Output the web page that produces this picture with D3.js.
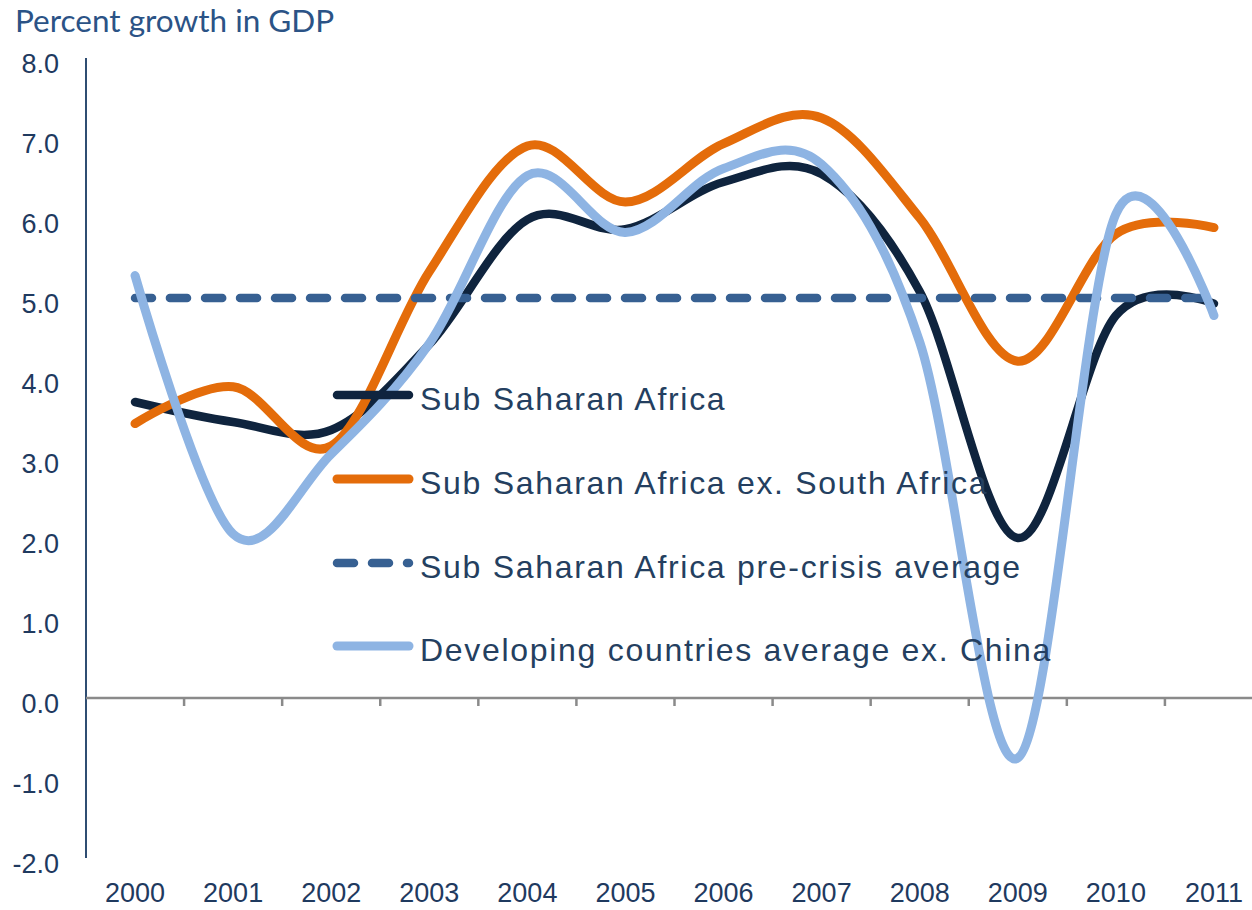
<!DOCTYPE html>
<html>
<head>
<meta charset="utf-8">
<script src="https://cdn.jsdelivr.net/npm/d3@7"></script>
<style>
  html, body { margin: 0; padding: 0; background: #fff; }
  svg { display: block; }
</style>
</head>
<body>
<svg id="chart" width="1252" height="910"></svg>
<script>
// ---- Data ----
const years = ["2000","2001","2002","2003","2004","2005","2006","2007","2008","2009","2010","2011"];
const ssa      = [3.70, 3.45, 3.35, 4.42, 5.98, 5.86, 6.45, 6.55, 5.08, 2.00, 4.78, 4.93];
const ssaExSA  = [3.43, 3.89, 3.15, 5.33, 6.90, 6.20, 6.93, 7.25, 6.00, 4.21, 5.80, 5.88];
const preCrisis = [5.0, 5.0, 5.0, 5.0, 5.0, 5.0, 5.0, 5.0, 5.0, 5.0, 5.0, 5.0];
const devExChina = [5.28, 2.05, 3.05, 4.43, 6.53, 5.82, 6.62, 6.67, 4.45, -0.75, 6.05, 4.78];
const yTicks = [-2, -1, 0, 1, 2, 3, 4, 5, 6, 7, 8];
const seriesNames = [
  "Sub Saharan Africa",
  "Sub Saharan Africa ex. South Africa",
  "Sub Saharan Africa pre-crisis average",
  "Developing countries average ex. China"
];
const titleText = "Percent growth in GDP";

// ---- Setup ----
const svg = d3.select("#chart");
const W = 1252, H = 910;
const x = d3.scaleBand().domain(years).range([86, 1263]).padding(0);
const y = d3.scaleLinear().domain([-2, 8]).range([858, 58]);
const cx = d => x(d) + x.bandwidth() / 2;

const labelColor = "#1f3a5f";
const series = [
  { name: seriesNames[0], values: ssa,        color: "#0f243e", width: 8.5, dash: null },
  { name: seriesNames[1], values: ssaExSA,    color: "#e46c0a", width: 9,   dash: null },
  { name: seriesNames[2], values: preCrisis,  color: "#376092", width: 8.5, dash: "17,18" },
  { name: seriesNames[3], values: devExChina, color: "#8eb4e3", width: 9,   dash: null }
];

// Title
svg.append("text")
  .attr("x", 15).attr("y", 32)
  .attr("font-family", "Lato, 'Open Sans', sans-serif")
  .attr("font-size", 31.5)
  .attr("fill", "#2b5386")
  .text(titleText);

// Y axis labels
svg.append("g").selectAll("text").data(yTicks).join("text")
  .attr("x", 59)
  .attr("y", d => y(d) + 14.5)
  .attr("text-anchor", "end")
  .attr("font-family", "'Liberation Sans', Arial, sans-serif")
  .attr("font-size", 27)
  .attr("fill", labelColor)
  .text(d => d.toFixed(1));

// Y axis line
svg.append("line")
  .attr("x1", 86).attr("x2", 86)
  .attr("y1", y(8)).attr("y2", y(-2))
  .attr("stroke", "#2f4d72").attr("stroke-width", 2);

// Zero line (category axis) with ticks at band boundaries
svg.append("line")
  .attr("x1", 86).attr("x2", W)
  .attr("y1", y(0)).attr("y2", y(0))
  .attr("stroke", "#8a8a8a").attr("stroke-width", 2.5);
svg.append("g").selectAll("line").data(years.slice(1)).join("line")
  .attr("x1", d => x(d)).attr("x2", d => x(d))
  .attr("y1", y(0)).attr("y2", y(0) + 8)
  .attr("stroke", "#8a8a8a").attr("stroke-width", 2.5);

// X labels
svg.append("g").selectAll("text").data(years).join("text")
  .attr("x", d => cx(d))
  .attr("y", 902)
  .attr("text-anchor", "middle")
  .attr("font-family", "'Liberation Sans', Arial, sans-serif")
  .attr("font-size", 27)
  .attr("fill", labelColor)
  .text(d => d);

// Lines
const line = d3.line()
  .x((d, i) => cx(years[i]))
  .y(d => y(d))
  .curve(d3.curveCardinal.tension(0));

series.forEach(s => {
  svg.append("path")
    .datum(s.values)
    .attr("d", line)
    .attr("fill", "none")
    .attr("stroke", s.color)
    .attr("stroke-width", s.width)
    .attr("stroke-linecap", "round")
    .attr("stroke-linejoin", "round")
    .attr("stroke-dasharray", s.dash);
});

// Legend
const legendY = [395, 479, 563, 646];
const lg = svg.append("g");
series.forEach((s, i) => {
  lg.append("line")
    .attr("x1", 337).attr("x2", 409)
    .attr("y1", legendY[i]).attr("y2", legendY[i])
    .attr("stroke", s.color)
    .attr("stroke-width", s.width)
    .attr("stroke-linecap", "round")
    .attr("stroke-dasharray", s.dash);
  lg.append("text")
    .attr("x", 420)
    .attr("y", legendY[i] + 15)
    .attr("font-family", "'Liberation Sans', Arial, sans-serif")
    .attr("font-size", 32)
    .attr("letter-spacing", "1.7px")
    .attr("fill", "#243f60")
    .text(s.name);
});
</script>
</body>
</html>
